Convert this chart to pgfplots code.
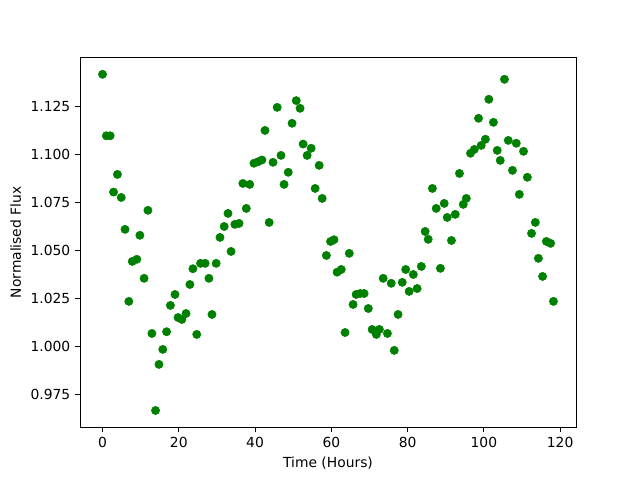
\documentclass[border=0pt]{standalone}
\usepackage{pgfplots}
\pgfplotsset{compat=1.18}
\usepackage{fontspec}
\setmainfont{DejaVu Sans}
\definecolor{mplgreen}{RGB}{0,128,0}
\begin{document}
\fontsize{10.4}{12.5}\selectfont
\begin{tikzpicture}
\useasboundingbox (-60pt,-39.6pt) rectangle (420pt,320.4pt);
\begin{axis}[
  at={(0,0)}, anchor=south west,
  scale only axis, width=372pt, height=277.2pt,
  xmin=-5.91, xmax=124.16, ymin=0.9578, ymax=1.1502,
  xtick={0,20,40,60,80,100,120},
  ytick={0.975,1.000,1.025,1.050,1.075,1.100,1.125},
  yticklabel style={/pgf/number format/.cd,fixed,fixed zerofill,precision=3},
  xticklabel style={/pgf/number format/.cd,fixed,precision=0},
  /pgf/number format/assume math mode=true,
  tick align=outside, xtick pos=bottom, ytick pos=left,
  major tick length=3.65pt,
  every tick/.style={black, line width=0.6pt},
  axis line style={line width=0.6pt},
  xlabel={Time (Hours)}, ylabel={Normalised Flux},
  ticklabel style={font=\fontsize{10.4}{12.5}\selectfont},
  label style={font=\fontsize{10.4}{12.5}\selectfont},
  scaled y ticks=false,
]
\addplot[only marks, mark=*, mark size=3.1pt, color=mplgreen, mark options={draw=mplgreen, fill=mplgreen}] table {
x y
0 1.1415
1 1.1095
2 1.1095
2.9 1.0802
3.9 1.0894
4.9 1.0774
5.9 1.0608
6.9 1.0233
7.8 1.0441
9.0 1.0452
9.8 1.0577
10.9 1.0353
11.9 1.0707
12.95 1.0066
13.9 0.9665
14.8 0.9905
15.8 0.9983
16.8 1.0075
17.8 1.0212
19.0 1.0269
19.8 1.0149
20.8 1.0139
21.9 1.017
22.9 1.0321
23.7 1.0403
24.7 1.0061
25.7 1.0431
26.9 1.0431
27.9 1.0353
28.7 1.0165
29.8 1.0431
30.8 1.0566
31.9 1.0623
32.9 1.0691
33.7 1.0493
34.7 1.0634
35.8 1.0639
36.8 1.0847
37.7 1.0717
38.6 1.0842
39.7 1.0952
40.8 1.096
41.8 1.0969
42.6 1.1123
43.7 1.0644
44.7 1.0957
45.8 1.1243
46.8 1.0993
47.6 1.0842
48.7 1.0905
49.7 1.116
50.8 1.1278
51.8 1.1238
52.6 1.1052
53.65 1.0993
54.7 1.103
55.75 1.0821
56.8 1.0941
57.6 1.0769
58.7 1.0472
59.8 1.0545
60.7 1.0554
61.5 1.0385
62.6 1.0399
63.6 1.0071
64.7 1.0483
65.7 1.0217
66.5 1.0269
67.6 1.0274
68.6 1.0274
69.7 1.0196
70.7 1.0087
71.8 1.0061
72.6 1.0087
73.6 1.0353
74.7 1.0066
75.7 1.0327
76.5 0.9978
77.5 1.0165
78.6 1.0332
79.5 1.0399
80.4 1.0285
81.5 1.0373
82.5 1.03
83.6 1.0415
84.6 1.0597
85.4 1.0556
86.5 1.0821
87.5 1.0717
88.6 1.0405
89.6 1.0743
90.4 1.067
91.5 1.055
92.5 1.0686
93.6 1.0899
94.6 1.0738
95.4 1.0769
96.5 1.1004
97.5 1.1024
98.6 1.1186
99.3 1.1045
100.4 1.1077
101.3 1.1285
102.5 1.1165
103.5 1.1019
104.3 1.0967
105.4 1.1389
106.4 1.1071
107.5 1.0915
108.5 1.1056
109.3 1.079
110.4 1.1014
111.4 1.0879
112.5 1.0587
113.5 1.0644
114.3 1.0457
115.4 1.0363
116.4 1.0545
117.5 1.0535
118.25 1.0233
};
\end{axis}
\end{tikzpicture}
\end{document}
